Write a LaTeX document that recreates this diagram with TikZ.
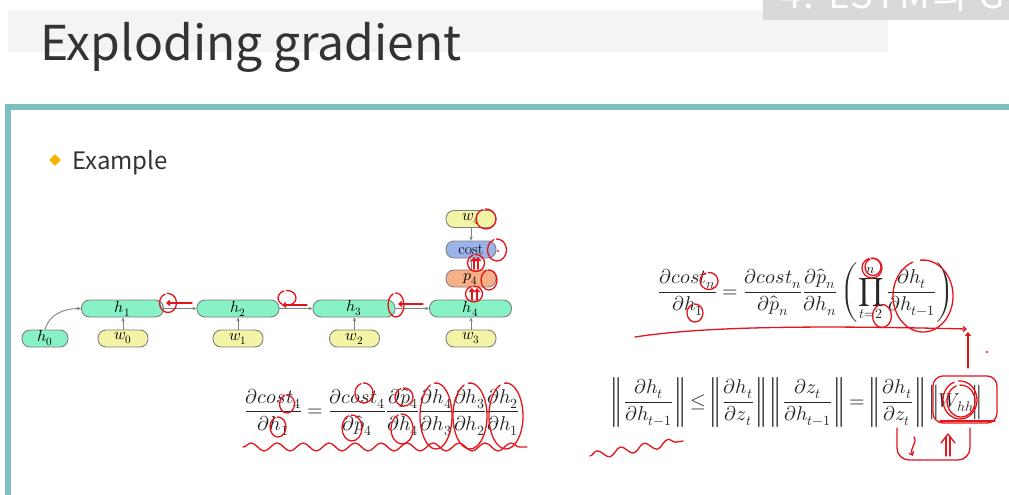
\documentclass[tikz,border=0pt]{standalone}
\usepackage{fontspec}
\usepackage{unicode-math}
\setmathfont{Latin Modern Math}
\newfontfamily\slidefont{Noto Sans CJK KR}
\newfontfamily\tabfont[LetterSpace=6]{Noto Sans CJK KR}
\usetikzlibrary{arrows.meta,shapes.geometric,decorations.pathmorphing}

\definecolor{framecol}{HTML}{7DBFBE}
\definecolor{titlecol}{HTML}{333333}
\definecolor{bandcol}{HTML}{F4F4F4}
\definecolor{tabgray}{HTML}{D9D9D9}
\definecolor{bulletcol}{HTML}{F5B400}
\definecolor{hcol}{HTML}{86F2C6}
\definecolor{wcol}{HTML}{F4F4A6}
\definecolor{pcol}{HTML}{F6B088}
\definecolor{costcol}{HTML}{9CB3EA}
\definecolor{edgecol}{HTML}{808080}
\definecolor{inkred}{HTML}{E5141B}
\definecolor{mathcol}{HTML}{262626}

% hand-drawn loop: centre x, centre y, x radius, y radius
\newcommand{\inkloop}[4]{%
  \draw[ink] (#1,#2) ++(110:#3pt and #4pt)
    arc[start angle=110, delta angle=345, x radius=#3pt, y radius=#4pt];}
% norm of a fraction with a little air inside the bars
\newcommand{\nrm}[1]{\left\|\,#1\,\right\|}

\begin{document}
\begin{tikzpicture}[x=1pt,y=-1pt,
  cell/.style={draw=edgecol, line width=0.9pt, rounded corners=8pt,
    minimum height=17pt, inner sep=0pt, font=\fontsize{16}{16}\selectfont},
  hcell/.style={cell, fill=hcol, minimum width=82pt},
  wcell/.style={cell, fill=wcol, minimum width=50pt},
  flow/.style={draw=edgecol, line width=0.9pt, -{Stealth[length=4pt,width=3.5pt]}},
  ink/.style={draw=inkred, line width=1.3pt, line cap=round, line join=round},
  inktip/.style={ink, -{Straight Barb[length=3pt,width=5pt]}},
  eq/.style={text=mathcol, inner sep=0pt, font=\fontsize{20}{24}\selectfont}]
\useasboundingbox (0,0) rectangle (1009,495);
\fill[white] (0,0) rectangle (1009,495);

% header
\fill[bandcol] (8,10) rectangle (888,52);
\fill[tabgray] (763,0) rectangle (1009,20);
\begin{scope}
  \clip (763,0) rectangle (1009,20);
  \node[anchor=base west, inner sep=0pt, text=white,
        font=\tabfont\fontsize{38}{38}\selectfont] (tab) at (780,9) {4. LSTM의 Gradient};
\end{scope}
\node[anchor=base west, inner sep=0pt, text=titlecol,
      font=\slidefont\fontsize{48}{48}\selectfont] (title) at (40,60) {Exploding gradient};

% content frame
\draw[framecol, line width=6pt] (1015,107) -- (8,107) -- (8,500);

\node[diamond, fill=bulletcol, minimum size=12pt, inner sep=0pt] (bullet) at (55,160) {};
\node[anchor=base west, inner sep=0pt, text=titlecol,
      font=\slidefont\fontsize{24}{24}\selectfont] (example) at (72,169) {Example};

% unrolled network
\node[hcell, minimum width=46pt] (h0) at (45,338.5) {$h_0$};
\node[hcell] (h1) at (122.5,308.5) {$h_1$};
\node[hcell] (h2) at (238,308.5) {$h_2$};
\node[hcell] (h3) at (354,308.5) {$h_3$};
\node[hcell] (h4) at (470.5,308.5) {$h_4$};
\node[wcell] (w0) at (123,338.5) {$w_0$};
\node[wcell] (w1) at (238,338.5) {$w_1$};
\node[wcell] (w2) at (354.5,338.5) {$w_2$};
\node[wcell] (w3) at (471,338.5) {$w_3$};
\node[cell, fill=pcol, minimum width=50pt] (p4) at (471,278.5) {$p_4$};
\node[cell, fill=costcol, minimum width=50pt] (cost) at (471,249.5) {cost};
\node[wcell] (w4) at (471,219) {$w_4$};

\draw[flow] (h0.north) to[out=75,in=180] (h1.west);
\draw[flow] (h1) -- (h2);
\draw[flow] (h2) -- (h3);
\draw[flow] (h3) -- (h4);
\draw[flow] (w0) -- (w0 |- h1.south);
\draw[flow] (w1) -- (h2);
\draw[flow] (w2) -- (w2 |- h3.south);
\draw[flow] (w3) -- (w3 |- h4.south);
\draw[flow] (h4.north -| p4) -- (p4);
\draw[flow] (p4) -- (cost);
\draw[flow] (w4) -- (cost);

% equations
\node[eq] (chain4) at (382,412)
  {$\displaystyle \frac{\partial cost_4}{\partial h_1} = \frac{\partial cost_4}{\partial \hat{p}_4}\frac{\partial \hat{p}_4}{\partial h_4}\frac{\partial h_4}{\partial h_3}\frac{\partial h_3}{\partial h_2}\frac{\partial h_2}{\partial h_1}$};
\node[eq] (chainn) at (806,292)
  {$\displaystyle \frac{\partial cost_n}{\partial h_1} = \frac{\partial cost_n}{\partial \hat{p}_n}\frac{\partial \hat{p}_n}{\partial h_n}\left(\prod_{t=2}^{n}\frac{\partial h_t}{\partial h_{t-1}}\right)$};
\node[eq] (bound) at (797,402)
  {$\displaystyle \nrm{\frac{\partial h_t}{\partial h_{t-1}}} \leq \nrm{\frac{\partial h_t}{\partial z_t}}\,\nrm{\frac{\partial z_t}{\partial h_{t-1}}} = \nrm{\frac{\partial h_t}{\partial z_t}}\,\Big\|W_{hh}\Big\|$};

% red pen marks on the network
\inkloop{168}{303}{8.5}{9.5}
\draw[inktip] (192,303) -- (166,303);
\inkloop{287}{298}{9}{7.5}
\draw[inktip] (307,305) -- (282,305);
\inkloop{396}{305}{8}{12}
\draw[inktip] (423,304) -- (398,304);
\inkloop{474}{294}{8.5}{8}
\draw[inktip] (472,300) -- (472,288);
\draw[inktip] (477,300) -- (477,288);
\inkloop{476}{263}{8.5}{8.5}
\draw[inktip] (474,269) -- (474,257);
\draw[inktip] (478,269) -- (478,257);
\inkloop{489}{280}{8}{10}
\inkloop{497}{250}{9.5}{11}
\fill[inkred] (498,251) circle (1.2pt);
\inkloop{486}{219}{10}{10}

% red pen marks on the four-step chain rule
\inkloop{287}{404}{7.5}{9}
\inkloop{278}{427}{8}{10}
\inkloop{364}{393}{9}{10}
\inkloop{352}{428}{10}{13}
\inkloop{404}{397}{9}{9}
\inkloop{402}{429}{11}{15}
\inkloop{436}{416}{16}{33}
\inkloop{470}{416}{17}{33}
\inkloop{506}{416}{17}{33}
\draw[ink, decorate, decoration={snake, amplitude=4pt, segment length=26pt}]
  (243,447) -- (527,447);

% red pen marks on the general chain rule
\inkloop{709}{281}{9}{8.5}
\inkloop{695}{313}{8}{9}
\inkloop{872}{268}{10}{10}
\inkloop{873}{267}{8}{8.5}
\inkloop{882}{316}{9.5}{11.5}
\inkloop{923}{296}{30}{36}
\draw[inktip] (635,337) .. controls (700,327) and (800,325) .. (967,329);
\draw[inktip] (968,368) -- (968,332);
\fill[inkred] (987,352) circle (1.1pt);

% red pen marks on the norm bound
\draw[ink, rounded corners=10pt] (933,376) rectangle (997,423);
\inkloop{960}{400}{17}{19}
\inkloop{961}{401}{14}{16}
\draw[ink] (940,421) -- (995,421);
\draw[ink] (897,428) [rounded corners=12pt] -- (897,460) -- (970,460) -- (970,428);
\draw[inktip] (914,437) .. controls (918,443) and (909,448) .. (913,456);
\draw[ink] (946,456) -- (946,437) (950,456) -- (950,437);
\draw[ink] (941,443) -- (948,434) -- (955,443);
\draw[ink, decorate, decoration={snake, amplitude=4pt, segment length=24pt}]
  (590,456) -- (683,441);
\end{tikzpicture}
\end{document}
